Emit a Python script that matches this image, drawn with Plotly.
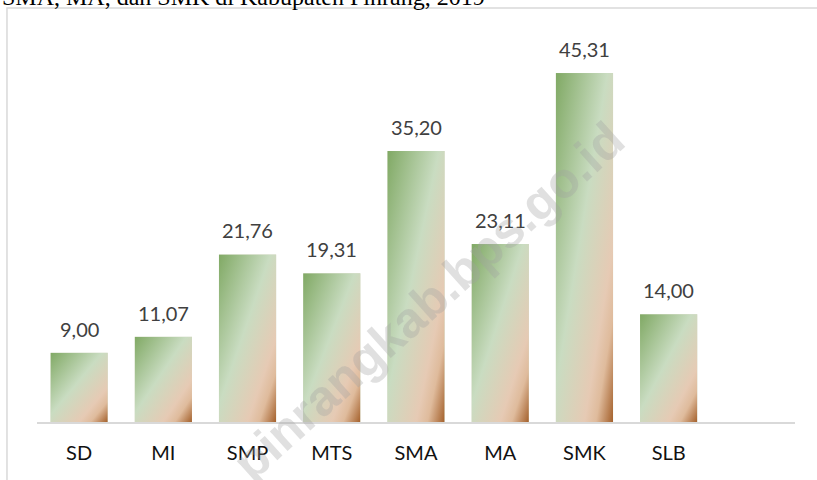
import base64
import plotly.graph_objects as go

# ---- data ----
categories = ["SD", "MI", "SMP", "MTS", "SMA", "MA", "SMK", "SLB"]
values = [9.00, 11.07, 21.76, 19.31, 35.20, 23.11, 45.31, 14.00]
value_labels = ["9,00", "11,07", "21,76", "19,31", "35,20", "23,11", "45,31", "14,00"]
title_text = "SMA, MA, dan SMK di Kabupaten Pinrang, 2019"
watermark = "pinrangkab.bps.go.id"

# ---- gradient fill for bars (diagonal green -> peach -> brown) ----
svg = (
    '<svg xmlns="http://www.w3.org/2000/svg" width="100" height="100" viewBox="0 0 100 100" preserveAspectRatio="none">'
    '<defs><linearGradient id="g" x1="0" y1="0" x2="1" y2="1">'
    '<stop offset="0" stop-color="#80a964"/>'
    '<stop offset="0.45" stop-color="#c9dcc1"/>'
    '<stop offset="0.75" stop-color="#e6cab4"/>'
    '<stop offset="0.85" stop-color="#dfbb9c"/>'
    '<stop offset="1" stop-color="#a4602b"/>'
    '</linearGradient></defs>'
    '<rect x="0" y="0" width="100" height="100" fill="url(#g)"/></svg>'
)
uri = "data:image/svg+xml;base64," + base64.b64encode(svg.encode()).decode()

BAR_W = 0.68
xs = list(range(len(categories)))

fig = go.Figure()
fig.add_trace(go.Bar(
    x=xs, y=values, width=BAR_W,
    marker=dict(color="#cfd6be", line=dict(width=0)),
    hoverinfo="skip", showlegend=False,
))

images = []
for i, v in zip(xs, values):
    images.append(dict(
        source=uri, xref="x", yref="y", x=i - BAR_W / 2, y=v,
        sizex=BAR_W, sizey=v, sizing="stretch",
        xanchor="left", yanchor="top", layer="above",
    ))

annotations = []
for i, v, t in zip(xs, values, value_labels):
    annotations.append(dict(
        x=i, y=v, xref="x", yref="y", text=t, showarrow=False,
        yanchor="middle", yshift=24,
        font=dict(family="Lato", size=20, color="#404040"),
    ))

# cropped title at very top
annotations.append(dict(
    x=-0.049, y=1.056, xref="paper", yref="paper", text=title_text,
    showarrow=False, xanchor="left", yanchor="middle",
    font=dict(family="Liberation Serif", size=24, color="#000000"),
))

# watermark
annotations.append(dict(
    x=0.517, y=0.30, xref="paper", yref="paper", text="<b>" + watermark + "</b>",
    showarrow=False, textangle=-42, xanchor="center", yanchor="middle",
    font=dict(family="Liberation Sans", size=50, color="rgba(160,160,160,0.33)"),
))

shapes = [
    # outer chart frame (extends past right and bottom)
    dict(type="rect", xref="paper", yref="paper", x0=-0.0396, x1=1.2, y0=-0.3, y1=1.0299,
         line=dict(color="#d9d9d9", width=1.5), fillcolor="rgba(0,0,0,0)", layer="below"),
]

fig.update_layout(
    width=817, height=480,
    margin=dict(l=37, r=22, t=20, b=58),
    paper_bgcolor="white", plot_bgcolor="white",
    images=images, annotations=annotations, shapes=shapes,
    xaxis=dict(
        range=[-0.5, 8.5], tickvals=xs, ticktext=categories,
        showgrid=False, zeroline=False, showline=True, linecolor="#d9d9d9", linewidth=1.5,
        ticks="", ticklabelstandoff=12,
        tickfont=dict(family="Lato", size=20, color="#111111"),
    ),
    yaxis=dict(
        range=[0, 52.2], visible=False, showgrid=False, zeroline=False,
    ),
)

fig.write_html(
    "out.html",
    config={"displayModeBar": False},
    post_script="document.body.style.margin='0';document.body.style.overflow='hidden';",
)
